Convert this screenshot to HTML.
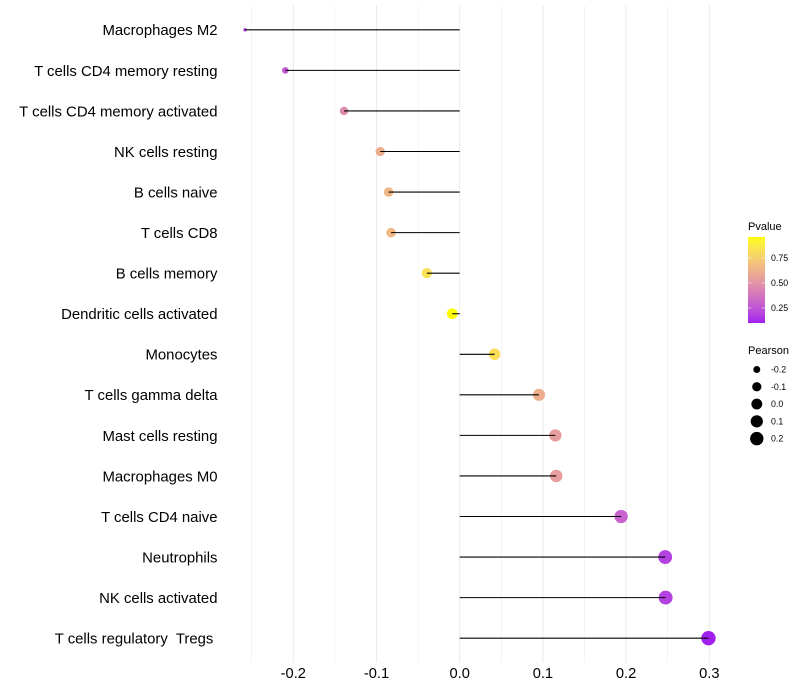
<!DOCTYPE html>
<html lang="en">
<head>
<meta charset="utf-8">
<title>Immune cell correlation lollipop chart</title>
<style>
html,body{margin:0;padding:0;background:#fff;}
svg{display:block;font-family:"Liberation Sans",Arial,sans-serif;}
text{white-space:pre;fill:#000;}
</style>
</head>
<body>
<svg id="chart" xmlns="http://www.w3.org/2000/svg" width="800" height="700" viewBox="0 0 800 700"></svg>
<script>
const categories = ["Macrophages M2","T cells CD4 memory resting","T cells CD4 memory activated","NK cells resting","B cells naive","T cells CD8","B cells memory","Dendritic cells activated","Monocytes","T cells gamma delta","Mast cells resting","Macrophages M0","T cells CD4 naive","Neutrophils","NK cells activated","T cells regulatory  Tregs "];
const pearson = [-0.258,-0.2096,-0.139,-0.0955,-0.0855,-0.0825,-0.0395,-0.009,0.042,0.0953,0.115,0.116,0.194,0.247,0.2475,0.299];
const pvalues = [0.17,0.27,0.46,0.61,0.65,0.66,0.83,0.96,0.82,0.61,0.54,0.54,0.30,0.19,0.19,0.10];
const majorTicks = [-0.2,-0.1,0,0.1,0.2,0.3];
const minorTicks = [-0.25,-0.15,-0.05,0.05,0.15,0.25];
const tickLabels = ["-0.2","-0.1","0.0","0.1","0.2","0.3"];
const pLegendTicks = [0.25,0.5,0.75];
const pLegendLabels = ["0.25","0.50","0.75"];
const sizeLegendValues = [-0.2,-0.1,0,0.1,0.2];
const sizeLegendLabels = ["-0.2","-0.1","0.0","0.1","0.2"];

const NS = "http://www.w3.org/2000/svg";
const svg = document.getElementById("chart");
const panel = {top:5.5, bottom:662.5};
const xScale = v => 459.7 + v * 832;
const rowStep = (panel.bottom - panel.top) / (categories.length - 1 + 1.2);
const yScale = i => panel.top + (0.6 + i) * rowStep;
const minR = Math.min(...pearson), maxR = Math.max(...pearson);
const radius = v => (3.4 + 11 * Math.sqrt(Math.max(0, (v - minR) / (maxR - minR)))) / 2;
const pMin = Math.min(...pvalues), pMax = Math.max(...pvalues);

function lin(c){c/=255;return c<=0.04045?c/12.92:Math.pow((c+0.055)/1.055,2.4);}
function unlin(c){const v=c<=0.0031308?12.92*c:1.055*Math.pow(c,1/2.4)-0.055;return Math.round(Math.min(1,Math.max(0,v))*255);}
function toLab(r,g,b){
  const R=lin(r),G=lin(g),B=lin(b);
  const f=t=>t>0.008856?Math.cbrt(t):7.787*t+16/116;
  const x=f((0.4124*R+0.3576*G+0.1805*B)/0.95047),y=f(0.2126*R+0.7152*G+0.0722*B),z=f((0.0193*R+0.1192*G+0.9505*B)/1.08883);
  return [116*y-16,500*(x-y),200*(y-z)];
}
function fromLab(L,a,b){
  const y=(L+16)/116,x=a/500+y,z=y-b/200;
  const g=t=>t*t*t>0.008856?t*t*t:(t-16/116)/7.787;
  const X=g(x)*0.95047,Y=g(y),Z=g(z)*1.08883;
  return "rgb("+unlin(3.2406*X-1.5372*Y-0.4986*Z)+","+unlin(-0.9689*X+1.8758*Y+0.0415*Z)+","+unlin(0.0557*X-0.2040*Y+1.0570*Z)+")";
}
const lowLab = toLab(160,32,240), highLab = toLab(255,255,0);
function colorAt(t){
  return fromLab(lowLab[0]+(highLab[0]-lowLab[0])*t, lowLab[1]+(highLab[1]-lowLab[1])*t, lowLab[2]+(highLab[2]-lowLab[2])*t);
}
const pColor = p => colorAt((p - pMin) / (pMax - pMin));

function make(tag, attrs, parent){
  const el = document.createElementNS(NS, tag);
  for (const k in attrs) el.setAttribute(k, attrs[k]);
  (parent || svg).appendChild(el);
  return el;
}

minorTicks.forEach(v => {
  const l = make("line",{x1:xScale(v),x2:xScale(v),y1:panel.top,y2:panel.bottom,stroke:"#ebebeb","stroke-width":0.55});
  
  
});
majorTicks.forEach((v,i) => {
  const l = make("line",{x1:xScale(v),x2:xScale(v),y1:panel.top,y2:panel.bottom,stroke:"#ebebeb","stroke-width":1.07});
  
  
  const t = make("text",{x:xScale(v),y:678,"text-anchor":"middle","font-size":14.67});
  t.textContent = tickLabels[i];
  
  
});

categories.forEach((name,i) => {
  const y = yScale(i);
  const label = make("text",{x:217.5,y:y+5.4,"text-anchor":"end","font-size":14.9});
  label.textContent = name;
  
  
  const dot = make("circle",{cx:xScale(pearson[i]),cy:y,r:radius(pearson[i]),fill:pColor(pvalues[i])});
  
  
  const stem = make("line",{x1:xScale(0),x2:xScale(pearson[i]),y1:y,y2:y,stroke:"#000","stroke-width":1.07});
  
  
});

const pTitle = make("text",{x:748,y:230,"font-size":11});
pTitle.textContent = "Pvalue";



const defs = make("defs",{});
const grad = make("linearGradient",{id:"pgrad",x1:0,y1:1,x2:0,y2:0},defs);
for (let s = 0; s <= 20; s++) {
  make("stop",{offset:(s/20),"stop-color":colorAt(s/20)},grad);
}
const barX = 748, barW = 17, barTop = 237, barBottom = 323;
const barScale = p => barBottom - (p - pMin) / (pMax - pMin) * (barBottom - barTop);
const bar = make("rect",{x:barX,y:barTop,width:barW,height:barBottom-barTop,fill:"url(#pgrad)"});


pLegendTicks.forEach((p,i) => {
  const y = barScale(p);
  const t1 = make("line",{x1:barX,x2:barX+3.4,y1:y,y2:y,stroke:"#fff","stroke-width":0.55});
  
  
  const t2 = make("line",{x1:barX+barW-3.4,x2:barX+barW,y1:y,y2:y,stroke:"#fff","stroke-width":0.55});
  
  
  const lab = make("text",{x:771,y:y+3.1,"font-size":8.8});
  lab.textContent = pLegendLabels[i];
  
  
});

const sTitle = make("text",{x:748,y:354,"font-size":11});
sTitle.textContent = "Pearson";


sizeLegendValues.forEach((v,i) => {
  const y = 369.5 + i * 17.28;
  const key = make("circle",{cx:756.8,cy:y,r:radius(v),fill:"#000"});
  
  
  const lab = make("text",{x:771,y:y+3.1,"font-size":8.8});
  lab.textContent = sizeLegendLabels[i];
  
  
});
</script>
</body>
</html>
